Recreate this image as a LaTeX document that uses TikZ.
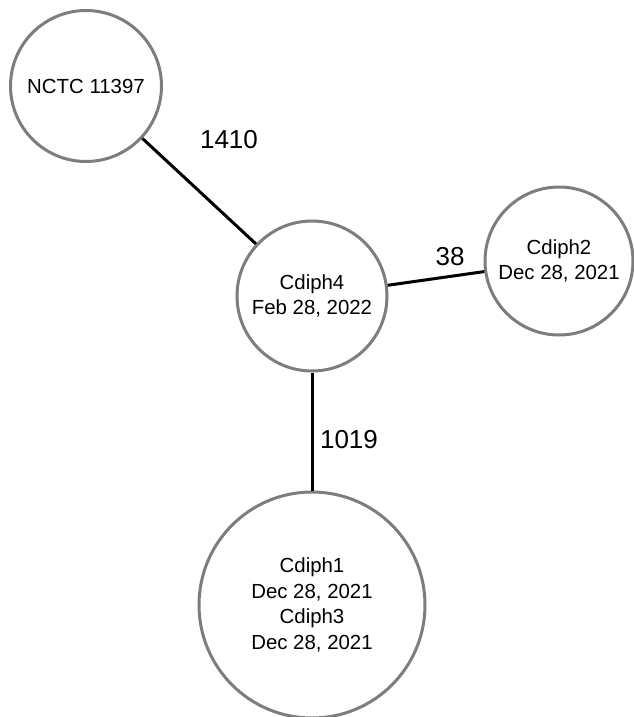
\documentclass[tikz,border=0pt]{standalone}
\usepackage{fontspec}
\setmainfont{Liberation Sans}
\definecolor{ringgray}{RGB}{125,125,125}
\begin{document}
\begin{tikzpicture}[x=1pt,y=-1pt,
  vert/.style={circle,draw=ringgray,line width=3pt,fill=white,inner sep=0pt,align=center,
    font=\fontsize{20.4}{25.5}\selectfont},
  edge/.style={line width=3pt,black},
  wlabel/.style={font=\fontsize{26}{30}\selectfont,inner sep=0pt}]
\useasboundingbox (0,0) rectangle (634,717);
\node[vert,minimum size=151pt] (n1) at (86,86) {NCTC 11397};
\node[vert,minimum size=150pt] (n4) at (312,296) {Cdiph4\\Feb 28, 2022};
\node[vert,minimum size=148pt] (n2) at (559,261) {Cdiph2\\Dec 28, 2021};
\node[vert,minimum size=226pt] (n13) at (312,605) {Cdiph1\\Dec 28, 2021\\Cdiph3\\Dec 28, 2021};
\draw[edge] (n1) -- (n4);
\draw[edge] (n4) -- (n2);
\draw[edge] (n4) -- (n13);
\node[wlabel] (l1) at (229,140) {1410};
\node[wlabel] (l2) at (450,257) {38};
\node[wlabel] (l3) at (349,440) {1019};
\end{tikzpicture}
\end{document}
